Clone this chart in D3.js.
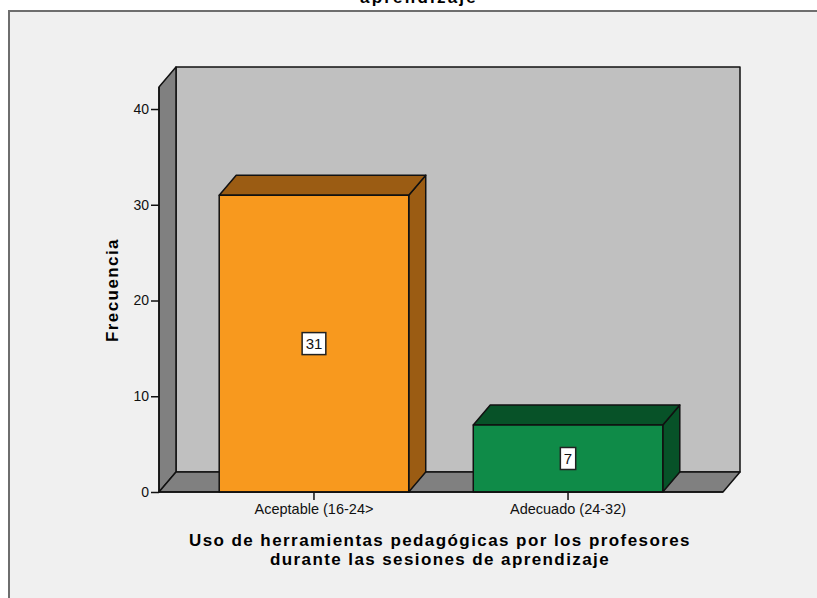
<!DOCTYPE html>
<html>
<head>
<meta charset="utf-8">
<script src="https://cdn.jsdelivr.net/npm/d3@7"></script>
<style>
  html, body { margin: 0; padding: 0; background: #ffffff; }
  svg { display: block; }
</style>
</head>
<body>
<svg id="chart" width="817" height="598"></svg>
<script>
// ---- data ----
const categories = ["Aceptable (16-24>", "Adecuado (24-32)"];
const values = [31, 7];
const yTicks = [0, 10, 20, 30, 40];
const chartTitleTail = "aprendizaje";
const xTitleLines = ["Uso de herramientas pedagógicas por los profesores", "durante las sesiones de aprendizaje"];
const yTitle = "Frecuencia";

// ---- styling ----
const frontColors = ["#f8991e", "#0f8b48"];
const darkColors = ["#9b5c13", "#075228"];
const wallColor = "#c0c0c0";
const sideColor = "#808080";
const bgColor = "#f0f0f0";
const FONT = "Liberation Sans, Arial, sans-serif";

const svg = d3.select("#chart");

// fit a text element's width by letter-spacing
function fitWidth(sel, target) {
  const n = sel.text().length;
  const w = sel.node().getComputedTextLength();
  sel.attr("letter-spacing", Math.max(-0.5, (target - w) / n));
}

// frame
svg.append("rect").attr("x", 9).attr("y", 11).attr("width", 830).attr("height", 600)
  .attr("fill", bgColor).attr("stroke", "#6e6e6e").attr("stroke-width", 2);

// cut-off title (only its last line's lower part is visible, as in the reference)
const tt = svg.append("text").attr("x", 419).attr("y", 3).attr("text-anchor", "middle")
  .attr("font-family", FONT).attr("font-weight", "bold")
  .attr("font-size", 17).attr("fill", "#000").text(chartTitleTail);
fitWidth(tt, 118);

// geometry
const dx = 17, dy = 20;
const xLeft = 159, xRight = 723;
const y = d3.scaleLinear().domain([0, 42.3]).range([492, 87]);
const x = d3.scaleBand().domain(categories).range([xLeft, xRight])
  .paddingInner(0.254).paddingOuter(0.237);

const y0 = y(0), yTop = y(42.3);
const pts = a => a.map(p => p.join(",")).join(" ");
function poly(g, points, fill) {
  return g.append("polygon").attr("points", pts(points)).attr("fill", fill)
    .attr("stroke", "#111").attr("stroke-width", 1.5).attr("stroke-linejoin", "round");
}

const g = svg.append("g");
poly(g, [[xLeft + dx, yTop - dy], [xRight + dx, yTop - dy], [xRight + dx, y0 - dy], [xLeft + dx, y0 - dy]], wallColor);
poly(g, [[xLeft, yTop], [xLeft + dx, yTop - dy], [xLeft + dx, y0 - dy], [xLeft, y0]], sideColor);
poly(g, [[xLeft, y0], [xLeft + dx, y0 - dy], [xRight + dx, y0 - dy], [xRight, y0]], sideColor);

// y axis ticks
const yAxis = d3.axisLeft(y).tickValues(yTicks).tickSize(8).tickPadding(2).tickFormat(d3.format("d"));
const ya = svg.append("g").attr("transform", `translate(${xLeft},0)`).call(yAxis);
ya.select(".domain").remove();
ya.selectAll(".tick line").attr("stroke", "#111").attr("stroke-width", 1.5);
ya.selectAll(".tick text").attr("font-family", FONT)
  .attr("font-size", 14).attr("fill", "#111");

// x axis ticks & labels
const xAxis = d3.axisBottom(x).tickSize(8).tickPadding(6);
const xa = svg.append("g").attr("transform", `translate(0,${y0})`).call(xAxis);
xa.select(".domain").remove();
xa.selectAll(".tick line").attr("stroke", "#111").attr("stroke-width", 1.5);
xa.selectAll(".tick text").attr("font-family", FONT)
  .attr("font-size", 14.5).attr("fill", "#111").attr("dy", "0.55em");

// bars
const bars = svg.append("g").selectAll("g").data(values).join("g");
bars.each(function (v, i) {
  const gb = d3.select(this);
  const x0 = x(categories[i]), x1 = x0 + x.bandwidth(), yt = y(v);
  poly(gb, [[x1, yt], [x1 + dx, yt - dy], [x1 + dx, y0 - dy], [x1, y0]], darkColors[i]);
  poly(gb, [[x0, yt], [x0 + dx, yt - dy], [x1 + dx, yt - dy], [x1, yt]], darkColors[i]);
  poly(gb, [[x0, yt], [x1, yt], [x1, y0], [x0, y0]], frontColors[i]);
  const cx = (x0 + x1) / 2, cy = (yt + y0) / 2;
  const t = gb.append("text").attr("x", cx).attr("y", cy).attr("text-anchor", "middle")
    .attr("dominant-baseline", "central")
    .attr("font-family", FONT).attr("font-size", 15)
    .attr("fill", "#111").text(v);
  const w = t.node().getComputedTextLength();
  gb.insert("rect", "text").attr("x", cx - w / 2 - 3.5).attr("y", cy - 11)
    .attr("width", w + 7).attr("height", 22).attr("fill", "#fff")
    .attr("stroke", "#222").attr("stroke-width", 1.5);
});

// axis lines on top
svg.append("line").attr("x1", xLeft).attr("x2", xLeft).attr("y1", yTop).attr("y2", y0)
  .attr("stroke", "#111").attr("stroke-width", 1.5);
svg.append("line").attr("x1", xLeft).attr("x2", xRight).attr("y1", y0).attr("y2", y0)
  .attr("stroke", "#111").attr("stroke-width", 1.5);

// x title (one text, two lines)
const xTargets = [502, 340];
const xt = svg.append("text").attr("text-anchor", "middle")
  .attr("font-family", FONT).attr("font-weight", "bold")
  .attr("font-size", 17).attr("fill", "#000");
xTitleLines.forEach((l, i) => {
  const sp = xt.append("tspan").attr("x", 440).attr("y", 546 + i * 18.5).text(l);
  fitWidth(sp, xTargets[i]);
});

// y title
const yt = svg.append("text").attr("transform", "translate(118,290) rotate(-90)")
  .attr("text-anchor", "middle")
  .attr("font-family", FONT).attr("font-weight", "bold")
  .attr("font-size", 17).attr("fill", "#000").text(yTitle);
fitWidth(yt, 104);
</script>
</body>
</html>
